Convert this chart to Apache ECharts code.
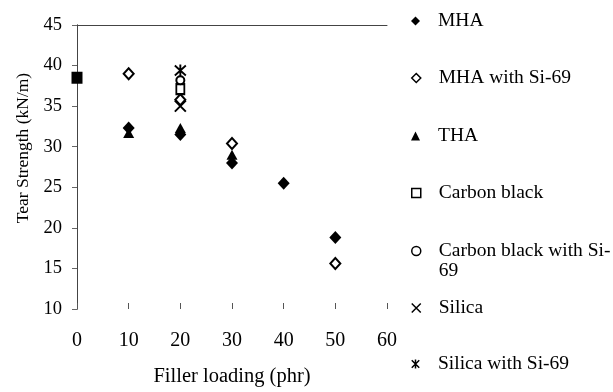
<!DOCTYPE html>
<html>
<head>
<meta charset="utf-8">
<script src="https://cdn.jsdelivr.net/npm/echarts@6/dist/echarts.min.js"></script>
<style>
  html, body { margin: 0; padding: 0; background: #fff; }
  #chart { width: 613px; height: 392px; }
</style>
</head>
<body>
<div id="chart"></div>
<script>
// data
var seriesNames = ["MHA", "MHA with Si-69", "THA", "Carbon black", "Carbon black with Si-69", "Silica", "Silica with Si-69"];
var mhaX = [10, 20, 30, 40, 50];
var mhaY = [32.3, 31.5, 28.0, 25.5, 18.8];
var mhaSiX = [10, 20, 30, 50];
var mhaSiY = [39.0, 35.8, 30.4, 15.6];
var thaX = [10, 20, 30];
var thaY = [31.7, 32.3, 29.0];
var cbX = [20];
var cbY = [37.1];
var cbSiX = [20];
var cbSiY = [38.2];
var silicaX = [20];
var silicaY = [35.0];
var silicaSiX = [20];
var silicaSiY = [39.4];
// unfilled rubber (0 phr)
var unfilledX = [0];
var unfilledY = [38.5];
var xTicks = [0, 10, 20, 30, 40, 50, 60];
var yTicks = [10, 15, 20, 25, 30, 35, 40, 45];

(function(){
    var myChart = echarts.init(document.getElementById("chart"));
    var serif = "Liberation Serif";

    function pairs(xs, ys){
      return xs.map(function(x, i){ return [x, ys[i]]; });
    }

    var xPath = "path://M0,0L10,10M10,0L0,10";
    var starPath = "path://M0,1L10,11M10,1L0,11M5,0L5,12";

    var styles = [
      {symbol: "diamond", size: [12, 13], fill: "#000", bw: 0},
      {symbol: "diamond", size: [10, 11], fill: "#fff", bw: 2},
      {symbol: "triangle", size: [11, 10], fill: "#000", bw: 0},
      {symbol: "rect", size: [8, 10], fill: "#fff", bw: 2},
      {symbol: "circle", size: [8, 8], fill: "#fff", bw: 2},
      {symbol: xPath, size: [11, 11], fill: "#000", bw: 2},
      {symbol: starPath, size: [11, 12], fill: "#000", bw: 2}
    ];
    var dataSets = [
      pairs(mhaX, mhaY), pairs(mhaSiX, mhaSiY), pairs(thaX, thaY),
      pairs(cbX, cbY), pairs(cbSiX, cbSiY), pairs(silicaX, silicaY), pairs(silicaSiX, silicaSiY)
    ];

    var series = seriesNames.map(function(name, i){
      var s = styles[i];
      return {
        name: name,
        type: "scatter",
        symbol: s.symbol,
        symbolSize: s.size,
        itemStyle: {color: s.fill, borderColor: "#000", borderWidth: s.bw, opacity: 1},
        emphasis: {disabled: true},
        data: dataSets[i]
      };
    });
    series.push({
      name: "Unfilled",
      type: "scatter",
      symbol: "rect",
      symbolSize: [11, 12],
      itemStyle: {color: "#000", opacity: 1},
      emphasis: {disabled: true},
      data: pairs(unfilledX, unfilledY)
    });

    //一个图例一个位置
    var legendTops = [11, 68, 126, 183, 221, 298, 354];
    var legends = seriesNames.map(function(name, i){
      var s = styles[i];
      return {
        data: [{name: name, icon: s.symbol, itemStyle: {color: s.fill, borderColor: "#000", borderWidth: s.bw ? 1.5 : 0}}],
        left: 411,
        top: legendTops[i],
        padding: 0,
        orient: "vertical",
        itemWidth: 9,
        itemHeight: 9,
        selectedMode: false,
        formatter: name === "Carbon black with Si-69" ? "\n{p|}Carbon black with Si-\n{p|}69" : "{p|}" + name,
        textStyle: {
          fontFamily: serif, fontSize: 19.5, color: "#000", lineHeight: 20,
          rich: {p: {width: 13, lineHeight: 20}}
        }
      };
    });

    var option = {
      animation: false,
      grid: {left: 77, right: 226, top: 25, bottom: 78},
      legend: legends,
      xAxis: [
        {
          type: "value",
          min: xTicks[0],
          max: xTicks[xTicks.length - 1],
          interval: 10,
          name: "Filler loading (phr)",
          nameLocation: "middle",
          nameGap: 57,
          nameTextStyle: {fontFamily: serif, fontSize: 20.5, color: "#000"},
          axisLine: {show: false},
          axisTick: {show: true, inside: true, length: 6, lineStyle: {color: "#555"}},
          axisLabel: {fontFamily: serif, fontSize: 20, color: "#000", margin: 22},
          splitLine: {show: false}
        },
        {
          type: "value", position: "top", min: 0, max: 60,
          axisLine: {show: true, lineStyle: {color: "#444"}},
          axisTick: {show: false}, axisLabel: {show: false}, splitLine: {show: false}
        }
      ],
      yAxis: [
        {
          type: "value",
          min: yTicks[0],
          max: yTicks[yTicks.length - 1],
          interval: 5,
          name: "Tear Strength (kN/m)",
          nameLocation: "middle",
          nameGap: 43,
          nameTextStyle: {fontFamily: serif, fontSize: 17.5, color: "#000", padding: [0, 0, 0, 38]},
          axisLine: {show: true, lineStyle: {color: "#444"}},
          axisTick: {show: true, length: 5, lineStyle: {color: "#666"}},
          axisLabel: {fontFamily: serif, fontSize: 18.5, color: "#000", margin: 15},
          splitLine: {show: false}
        },
        {
          type: "value", position: "right", min: 10, max: 45,
          axisLine: {show: true, lineStyle: {color: "#444"}},
          axisTick: {show: false}, axisLabel: {show: false}, splitLine: {show: false}
        }
      ],
      series: series
    };
    myChart.setOption(option);

    window.addEventListener("resize", function(){
      myChart.resize();
    });
})();
</script>
</body>
</html>
